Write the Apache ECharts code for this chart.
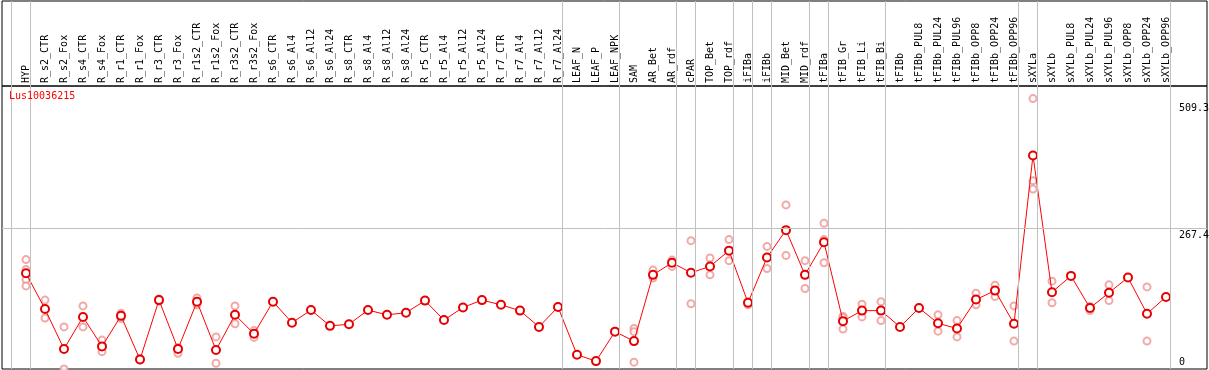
<!DOCTYPE html>
<html><head><meta charset="utf-8">
<script src="https://cdn.jsdelivr.net/npm/echarts@6/dist/echarts.min.js"></script>
<style>html,body{margin:0;padding:0;background:#fff}#c{width:1209px;height:370px}</style>
</head><body><div id="c"></div>
<script>
const geneId = 'Lus10036215';
const categories = ['HYP','R_s2_CTR','R_s2_Fox','R_s4_CTR','R_s4_Fox','R_r1_CTR','R_r1_Fox','R_r3_CTR','R_r3_Fox',
  'R_r1s2_CTR','R_r1s2_Fox','R_r3s2_CTR','R_r3s2_Fox','R_s6_CTR','R_s6_Al4','R_s6_Al12','R_s6_Al24',
  'R_s8_CTR','R_s8_Al4','R_s8_Al12','R_s8_Al24','R_r5_CTR','R_r5_Al4','R_r5_Al12','R_r5_Al24',
  'R_r7_CTR','R_r7_Al4','R_r7_Al12','R_r7_Al24','LEAF_N','LEAF_P','LEAF_NPK','SAM','AR_Bet','AR_rdf',
  'cPAR','TOP_Bet','TOP_rdf','iFIBa','iFIBb','MID_Bet','MID_rdf','tFIBa','tFIB_Gr','tFIB_Li','tFIB_Bi',
  'tFIBb','tFIBb_PUL8','tFIBb_PUL24','tFIBb_PUL96','tFIBb_OPP8','tFIBb_OPP24','tFIBb_OPP96',
  'sXYLa','sXYLb','sXYLb_PUL8','sXYLb_PUL24','sXYLb_PUL96','sXYLb_OPP8','sXYLb_OPP24','sXYLb_OPP96'];
const meanValues = [182,114,38,99,43,101,18,131,38,128,36,103,67,128,88,112,82,85,112,103,107,130,93,117,131,
  122,111,80,118,27,15,71,53,179,202,183,195,225,126,212,264,179,241,91,111,111,80,116,87,77,132,149,86,
  406,146,177,116,145,174,105,137];
const replicateValues = [[208,189,170,158],[131,97],[80,0],[120,80],[55,33],[106,96],[20,17],[133,129],[41,30],
  [135,122],[61,11],[120,86],[73,60],[],[],[],[],[],[],[],[],[],[],[],[],[],[],[],[],[],[],[],
  [77,71,13],[188,173],[207,195],[244,124],[211,179],[246,206],[128,122],[233,191],[312,216],[206,153],
  [277,246,202],[100,98,76],[123,99],[128,92],[],[],[103,72],[92,61],[144,122],[159,138],[120,53],
  [514,358,342],[167,126],[],[119,111],[160,130],[],[156,53],[]];
const groupEnds = [-1,0,28,31,34,35,37,38,39,41,42,45,52,53,60];
const yGridValues = [267.4];
const yLabelValues = [0,267.4,509.3];

const X_MIN = -1.263, X_MAX = 62.158, Y_MAX = 538;
const MONO = 'DejaVu Sans Mono';
const GREY = '#c0c0c0';

const meanData = meanValues.map((v,i)=>[i,v]);
const repData = [];
replicateValues.forEach((arr,i)=>arr.forEach(v=>repData.push([i,v])));
const vLines = groupEnds.map(g=>({xAxis:g+0.22}));
const yMarks = yLabelValues.map(v=>({
  yAxis:v,
  lineStyle:{color: yGridValues.includes(v) ? GREY : 'rgba(0,0,0,0)', width:1, type:'solid'},
  label:{show:true, formatter:String(v).padEnd(5,' '), position: v===0 ? 'insideEndTop' : 'insideEndBottom',
    distance:[-2,2], color:'#000', fontFamily:MONO, fontSize:10}
}));

const chart = echarts.init(document.getElementById('c'));
chart.setOption({
  animation:false,
  title:{text:geneId,left:9,top:91,padding:0,textStyle:{color:'#ff0000',fontSize:10,fontWeight:'normal',fontFamily:MONO}},
  grid:[
    {left:2,right:2,top:1,height:85,show:true,borderColor:'#000',borderWidth:1},
    {left:2,right:2,top:86,bottom:1,show:true,borderColor:'#000',borderWidth:1}
  ],
  xAxis:[
    {type:'value',gridIndex:0,min:X_MIN,max:X_MAX,position:'bottom',splitLine:{show:false},
     axisLine:{show:false},axisTick:{show:false},
     axisLabel:{inside:true,rotate:90,margin:3,customValues:categories.map((c,i)=>i),
       formatter:v=>categories[Math.round(v)] ?? '',fontFamily:MONO,fontSize:10,color:'#000'}},
    {type:'value',gridIndex:1,min:X_MIN,max:X_MAX,show:false}
  ],
  yAxis:[
    {type:'value',gridIndex:0,min:0,max:1,show:false},
    {type:'value',gridIndex:1,min:0,max:Y_MAX,show:false}
  ],
  series:[
    {type:'scatter',xAxisIndex:0,yAxisIndex:0,data:[],silent:true,
     markLine:{symbol:'none',silent:true,label:{show:false},lineStyle:{color:GREY,width:1,type:'solid'},data:vLines}},
    {type:'scatter',xAxisIndex:1,yAxisIndex:1,data:repData,symbol:'emptyCircle',symbolSize:7,z:2,
     itemStyle:{color:'#ee9494',borderWidth:1.2},
     markLine:{symbol:'none',silent:true,label:{show:false},lineStyle:{color:GREY,width:1,type:'solid'},
       data:vLines.concat(yMarks)}},
    {type:'line',xAxisIndex:1,yAxisIndex:1,data:meanData,symbol:'emptyCircle',symbolSize:8,z:3,
     lineStyle:{color:'#ff0000',width:1},itemStyle:{color:'#e60000',borderWidth:1.5}}
  ]
});
</script></body></html>
